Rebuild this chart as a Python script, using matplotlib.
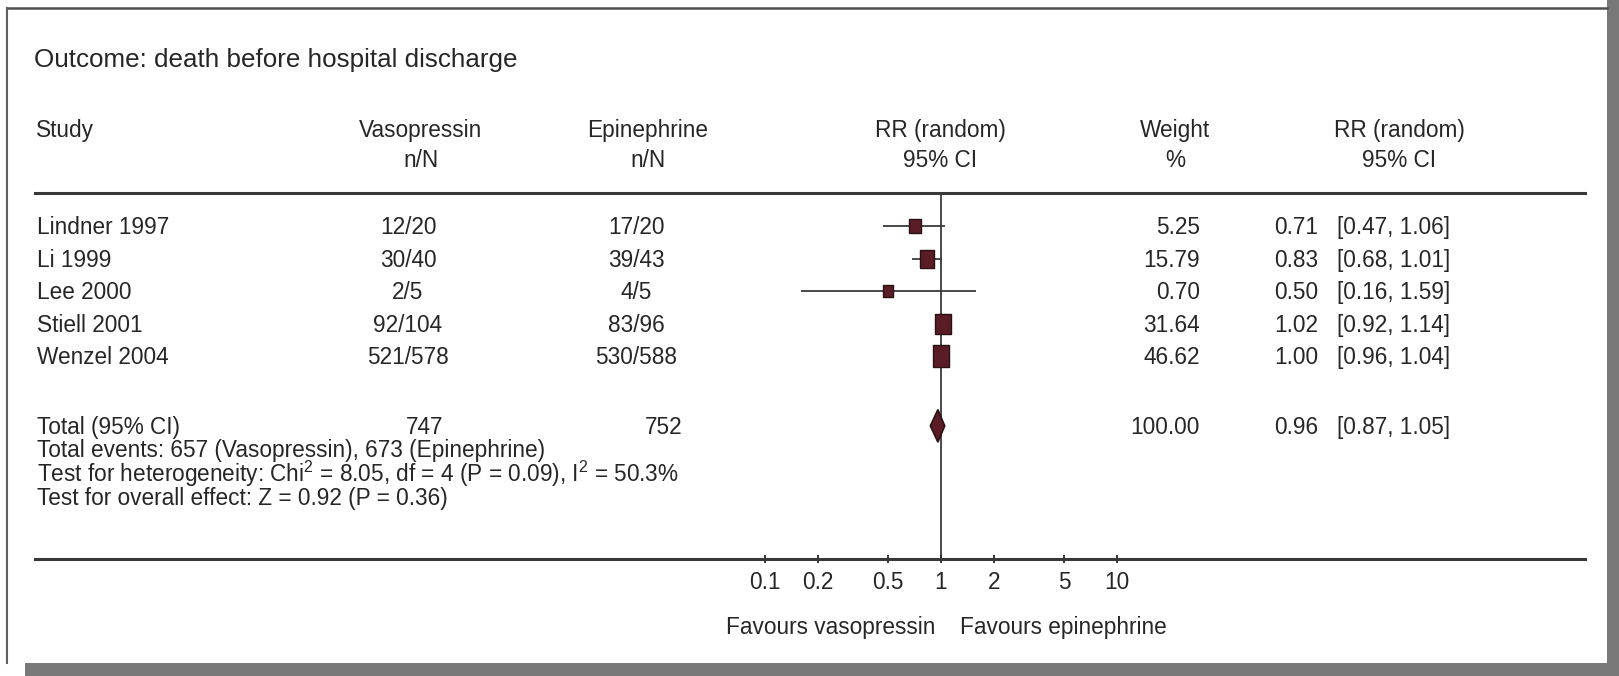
import matplotlib
matplotlib.use('Agg')
import matplotlib.pyplot as plt
import numpy as np
from matplotlib.patches import Rectangle
from matplotlib.lines import Line2D
from matplotlib.ticker import NullLocator
from matplotlib.transforms import blended_transform_factory

plt.rcParams['font.family'] = ['Liberation Sans', 'DejaVu Sans']
plt.rcParams['mathtext.fontset'] = 'custom'
plt.rcParams['mathtext.rm'] = 'Liberation Sans'
plt.rcParams['mathtext.it'] = 'Liberation Sans:italic'
plt.rcParams['mathtext.bf'] = 'Liberation Sans:bold'

# studies and their results
studies = ['Lindner 1997', 'Li 1999', 'Lee 2000', 'Stiell 2001', 'Wenzel 2004']
vaso_n = [12, 30, 2, 92, 521]
vaso_N = [20, 40, 5, 104, 578]
epi_n = [17, 39, 4, 83, 530]
epi_N = [20, 43, 5, 96, 588]
rr = [0.71, 0.83, 0.50, 1.02, 1.00]
ci_lo = [0.47, 0.68, 0.16, 0.92, 0.96]
ci_hi = [1.06, 1.01, 1.59, 1.14, 1.04]
weight = [5.25, 15.79, 0.70, 31.64, 46.62]

# pooled result
total_vaso = 747
total_epi = 752
total_rr = 0.96
total_lo = 0.87
total_hi = 1.05
total_weight = 100.00
events_vaso = 657
events_epi = 673
chi2, df, p_het, i2 = 8.05, 4, 0.09, 50.3
z, p_z = 0.92, 0.36

ticks = [0.1, 0.2, 0.5, 1, 2, 5, 10]
tick_labels = ['0.1', '0.2', '0.5', '1', '2', '5', '10']

W, H = 1619, 676
ink = '#262626'
box_col = '#5a1d26'
box_edge = '#2a1214'
fs = 16.3


def fx(px):
    return px / W


def fy(py):
    return 1 - py / H


fig = plt.figure(figsize=(W / 100, H / 100), dpi=100)
fig.patch.set_facecolor('white')

# page shadow and frame
fig.patches.append(Rectangle((fx(1607), 0), 1 - fx(1607), 1, transform=fig.transFigure,
                             facecolor='#787878', edgecolor='none', zorder=0))
fig.patches.append(Rectangle((fx(25), 0), 1 - fx(25), fy(663), transform=fig.transFigure,
                             facecolor='#787878', edgecolor='none', zorder=0))
fig.lines.append(Line2D([fx(7), fx(1607)], [fy(8), fy(8)], transform=fig.transFigure,
                        color='#505050', lw=1.8))
fig.lines.append(Line2D([fx(7), fx(7)], [fy(8), fy(663)], transform=fig.transFigure,
                        color='#606060', lw=1.5))

# forest panel: top spine = header rule, bottom spine = scale axis
ax = fig.add_axes([fx(35), fy(559), fx(1585) - fx(35), fy(193) - fy(559)])
ax.set_facecolor('none')
one_px, decade_px = 941, 176
ax.set_xscale('log')
ax.set_xlim(10 ** (-(one_px - 35) / decade_px), 10 ** ((1585 - one_px) / decade_px))
rows = np.arange(len(studies))
total_row = 6.15
ax.set_ylim(10.25, -1.02)

for side in ['left', 'right']:
    ax.spines[side].set_visible(False)
for side in ['top', 'bottom']:
    ax.spines[side].set_linewidth(2.2)
    ax.spines[side].set_color('#383838')
ax.set_yticks([])
ax.set_xticks(ticks)
ax.set_xticklabels(tick_labels)
ax.xaxis.set_minor_locator(NullLocator())
ax.tick_params(axis='x', direction='inout', length=6, width=1.3, pad=5.5,
               labelsize=fs, colors=ink)

ax.axvline(1, color='#3a3a3a', lw=1.3, zorder=1)
ax.hlines(rows, ci_lo, ci_hi, color='#3a3a3a', lw=1.3, zorder=2)

box = [(-0.77, -1), (0.77, -1), (0.77, 1), (-0.77, 1), (-0.77, -1)]
for i in rows:
    h_px = 11 + 1.6 * np.sqrt(weight[i])
    ax.plot(rr[i], rows[i], marker=box, ms=h_px * 0.72, mfc=box_col, mec=box_edge,
            mew=1.0, ls='none', zorder=3)

ax.fill([total_lo, total_rr, total_hi, total_rr],
        [total_row, total_row - 0.5, total_row, total_row + 0.5],
        facecolor=box_col, edgecolor=box_edge, lw=1.2, zorder=3)

# title and column headers
fig.text(fx(34), fy(67), 'Outcome: death before hospital discharge', fontsize=18.7,
         color=ink, va='baseline')
heads = [(36, 'Study', '', 'left'),
         (421, 'Vasopressin', 'n/N', 'center'),
         (648, 'Epinephrine', 'n/N', 'center'),
         (940, 'RR (random)', '95% CI', 'center'),
         (1175, 'Weight', '%', 'center'),
         (1399, 'RR (random)', '95% CI', 'center')]
for x, l1, l2, ha in heads:
    fig.text(fx(x), fy(137), l1, fontsize=fs, color=ink, ha=ha, va='baseline')
    fig.text(fx(x), fy(167), l2, fontsize=fs, color=ink, ha=ha, va='baseline')

# study rows
tr = blended_transform_factory(fig.transFigure, ax.transData)
base = 0.25
for i in rows:
    y = rows[i] + base
    ax.text(fx(37), y, studies[i], transform=tr, fontsize=fs, color=ink, va='baseline')
    ax.text(fx(408), y, f'{vaso_n[i]}/{vaso_N[i]}', transform=tr, fontsize=fs,
            color=ink, ha='center', va='baseline')
    ax.text(fx(636), y, f'{epi_n[i]}/{epi_N[i]}', transform=tr, fontsize=fs,
            color=ink, ha='center', va='baseline')
    ax.text(fx(1200), y, f'{weight[i]:.2f}', transform=tr, fontsize=fs, color=ink,
            ha='right', va='baseline')
    ax.text(fx(1318), y, f'{rr[i]:.2f}', transform=tr, fontsize=fs, color=ink,
            ha='right', va='baseline')
    ax.text(fx(1337), y, f'[{ci_lo[i]:.2f}, {ci_hi[i]:.2f}]', transform=tr,
            fontsize=fs, color=ink, ha='left', va='baseline')

# pooled row
y = total_row + base
ax.text(fx(37), y, 'Total (95% CI)', transform=tr, fontsize=fs, color=ink, va='baseline')
ax.text(fx(443), y, f'{total_vaso}', transform=tr, fontsize=fs, color=ink,
        ha='right', va='baseline')
ax.text(fx(682), y, f'{total_epi}', transform=tr, fontsize=fs, color=ink,
        ha='right', va='baseline')
ax.text(fx(1200), y, f'{total_weight:.2f}', transform=tr, fontsize=fs, color=ink,
        ha='right', va='baseline')
ax.text(fx(1318), y, f'{total_rr:.2f}', transform=tr, fontsize=fs, color=ink,
        ha='right', va='baseline')
ax.text(fx(1337), y, f'[{total_lo:.2f}, {total_hi:.2f}]', transform=tr, fontsize=fs,
        color=ink, ha='left', va='baseline')

# summary statistics
foot = [f'Total events: {events_vaso} (Vasopressin), {events_epi} (Epinephrine)',
        f'Test for heterogeneity: Chi$^{{2}}$ = {chi2:.2f}, df = {df} (P = {p_het:.2f}), '
        f'I$^{{2}}$ = {i2:.1f}%',
        f'Test for overall effect: Z = {z:.2f} (P = {p_z:.2f})']
for py, s in zip([457, 482, 505], foot):
    fig.text(fx(37), fy(py), s, fontsize=fs, color=ink, va='baseline')

fig.text(fx(935), fy(634), 'Favours vasopressin', fontsize=fs, color=ink,
         ha='right', va='baseline')
fig.text(fx(960), fy(634), 'Favours epinephrine', fontsize=fs, color=ink,
         ha='left', va='baseline')

fig.savefig('out.png', dpi=100)
